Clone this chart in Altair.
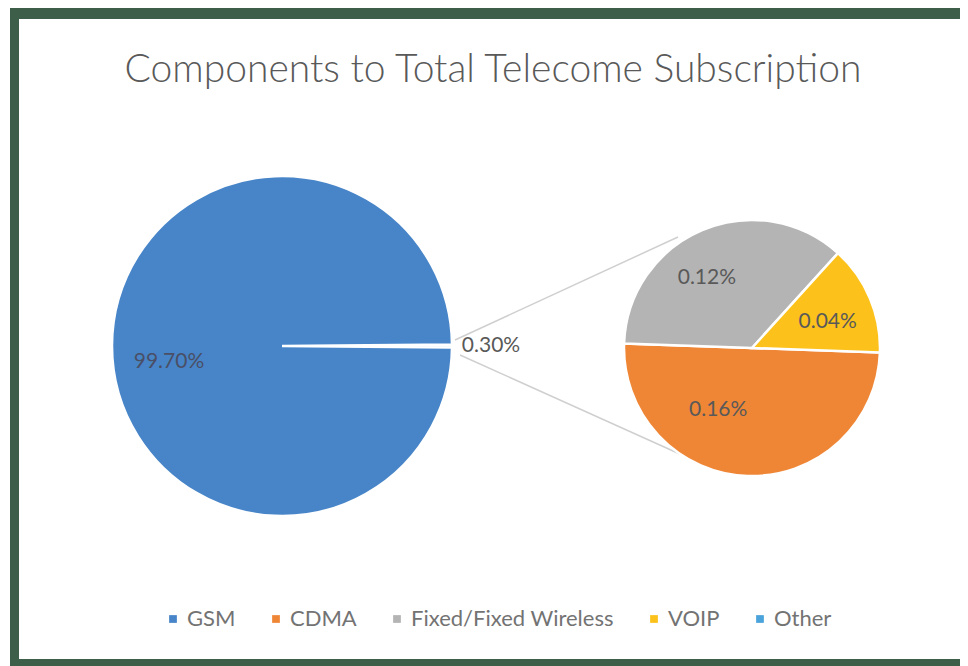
import math
import altair as alt
import pandas as pd

# ---- data ----
title_text = "Components to Total Telecome Subscription"
big_categories = ["Other", "GSM"]
big_values = [0.302, 99.698]
small_categories = ["CDMA", "Fixed/Fixed Wireless", "VOIP"]
small_values = [0.159, 0.115, 0.044]
legend_order = ["GSM", "CDMA", "Fixed/Fixed Wireless", "VOIP", "Other"]
legend_colors = ["#4785c8", "#ef8636", "#b4b4b4", "#fcc21b", "#4ba3db"]

W, H = 952, 658
BIG_C = (274, 338)
BIG_R = 170
SMALL_C = (744, 340)
SMALL_R = 128
GREEN = "#3d5e48"
FONT = "Lato"
LABEL_SIZE = 21

big = pd.DataFrame({
    "category": big_categories,
    "share": big_values,
    "idx": list(range(len(big_categories))),
    "label": [f"{v:.2f}%" for v in big_values],
})
small = pd.DataFrame({
    "category": small_categories,
    "share": small_values,
    "idx": list(range(len(small_categories))),
    "label": [f"{v:.2f}%" for v in small_values],
})
for cat in big_categories:
    big["lab_" + cat] = [l if c == cat else "" for c, l in zip(big["category"], big["label"])]
for cat in small_categories:
    small["lab_" + cat] = [l if c == cat else "" for c, l in zip(small["category"], small["label"])]

other_frac = big_values[0] / sum(big_values)
big_start = math.pi / 2 - other_frac * math.pi
small_start = math.pi / 2 + 0.035

color_scale = alt.Scale(domain=legend_order, range=legend_colors)
legend = alt.Legend(
    orient="none", legendX=154, legendY=600, direction="horizontal", title=None,
    labelFontSize=22, labelColor="#737373", labelFont=FONT, labelLimit=0,
    symbolType="square", symbolSize=60, symbolStrokeWidth=0,
    columnPadding=29, labelOffset=3,
)


def theta_enc(start):
    return alt.Theta("share:Q", stack=True,
                     scale=alt.Scale(range=[start, start + 2 * math.pi]))


def arc_layer(df, start, center, r):
    return alt.Chart(df).mark_arc(outerRadius=r, stroke="white", strokeWidth=2.5).encode(
        theta=theta_enc(start),
        color=alt.Color("category:N", scale=color_scale, legend=legend),
        order=alt.Order("idx:Q"),
        x=alt.value(center[0]), y=alt.value(center[1]),
    )


def label_layer(df, start, center, cat, radius, dx, dy, color):
    return alt.Chart(df).mark_text(
        radius=radius, dx=dx, dy=dy, fontSize=LABEL_SIZE, font=FONT, color=color
    ).encode(
        theta=theta_enc(start), order=alt.Order("idx:Q"), text=f"lab_{cat}:N",
        x=alt.value(center[0]), y=alt.value(center[1]),
    )


big_arc = arc_layer(big, big_start, BIG_C, BIG_R)
small_arc = arc_layer(small, small_start, SMALL_C, SMALL_R)
labels = [
    label_layer(big, big_start, BIG_C, "GSM", 113, 0, 16, "#4a4f66"),
    label_layer(big, big_start, BIG_C, "Other", 209, 0, 0, "#595959"),
    label_layer(small, small_start, SMALL_C, "CDMA", 80, -31, -18, "#595959"),
    label_layer(small, small_start, SMALL_C, "Fixed/Fixed Wireless", 80, -14, 4, "#595959"),
    label_layer(small, small_start, SMALL_C, "VOIP", 80, 2, 5, "#595959"),
]

one = alt.Chart(pd.DataFrame({"k": [0]}))
lines = [
    one.mark_rule(color="#cfcfcf", strokeWidth=1.5).encode(
        x=alt.value(447), y=alt.value(332), x2=alt.value(670), y2=alt.value(229)),
    one.mark_rule(color="#cfcfcf", strokeWidth=1.5).encode(
        x=alt.value(452), y=alt.value(347), x2=alt.value(674), y2=alt.value(447)),
]
title = one.mark_text(text=title_text, fontSize=39, font=FONT, fontWeight=300,
                      color="#595959").encode(x=alt.value(485), y=alt.value(62))
borders = [
    one.mark_rect(color=GREEN).encode(x=alt.value(2), x2=alt.value(11), y=alt.value(0), y2=alt.value(H)),
    one.mark_rect(color=GREEN).encode(x=alt.value(2), x2=alt.value(W), y=alt.value(0), y2=alt.value(11)),
    one.mark_rect(color=GREEN).encode(x=alt.value(2), x2=alt.value(W), y=alt.value(H - 7), y2=alt.value(H)),
    # white edge strip on the right, where the frame is cut off in the original
    one.mark_rect(color="white").encode(x=alt.value(W - 6), x2=alt.value(W), y=alt.value(11), y2=alt.value(H - 7)),
]

chart = alt.layer(
    *lines, big_arc, small_arc, *labels, title, *borders
).resolve_scale(theta="independent").properties(
    width=W, height=H, padding=0, background="white"
).configure_view(stroke="transparent", strokeWidth=0)

chart.save("out.html", embed_options={"renderer": "svg", "actions": False})
